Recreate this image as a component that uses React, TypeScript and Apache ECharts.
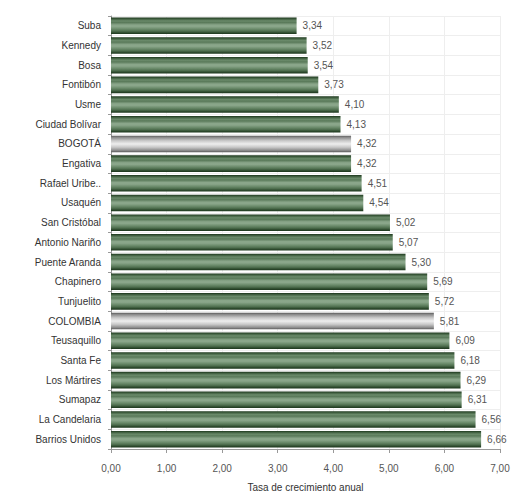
import React, { useEffect, useRef } from "react";
import * as echarts from "echarts";

const categories = [
  "Suba", "Kennedy", "Bosa", "Fontibón", "Usme", "Ciudad Bolívar", "BOGOTÁ",
  "Engativa", "Rafael Uribe..", "Usaquén", "San Cristóbal", "Antonio Nariño",
  "Puente Aranda", "Chapinero", "Tunjuelito", "COLOMBIA", "Teusaquillo",
  "Santa Fe", "Los Mártires", "Sumapaz", "La Candelaria", "Barrios Unidos",
];
const values = [
  3.34, 3.52, 3.54, 3.73, 4.10, 4.13, 4.32, 4.32, 4.51, 4.54, 5.02, 5.07,
  5.30, 5.69, 5.72, 5.81, 6.09, 6.18, 6.29, 6.31, 6.56, 6.66,
];
const highlighted = ["BOGOTÁ", "COLOMBIA"];
const axisTitle = "Tasa de crecimiento anual";

const greenGrad = () =>
  new echarts.graphic.LinearGradient(0, 0, 0, 1, [
    { offset: 0, color: "#1c361c" },
    { offset: 0.08, color: "#3d5c3d" },
    { offset: 0.2, color: "#6a8a6a" },
    { offset: 0.3, color: "#5a7a5a" },
    { offset: 0.45, color: "#8aa68a" },
    { offset: 0.55, color: "#8aa68a" },
    { offset: 0.7, color: "#6a8a6a" },
    { offset: 0.82, color: "#4f6f4f" },
    { offset: 0.92, color: "#2f4c2f" },
    { offset: 1, color: "#1c361c" },
  ]);
const greyGrad = () =>
  new echarts.graphic.LinearGradient(0, 0, 0, 1, [
    { offset: 0, color: "#5a5a5a" },
    { offset: 0.1, color: "#8a8a8a" },
    { offset: 0.3, color: "#c8c8c8" },
    { offset: 0.5, color: "#eeeeee" },
    { offset: 0.7, color: "#c8c8c8" },
    { offset: 0.9, color: "#8a8a8a" },
    { offset: 1, color: "#5a5a5a" },
  ]);

export default function App() {
  const ref = useRef<HTMLDivElement>(null);
  useEffect(() => {
    document.body.style.margin = "0";
    document.body.style.overflow = "hidden";
    if (!ref.current) return;
    const chart = echarts.init(ref.current, undefined, { renderer: "svg" });
    const fmt = (v: number) => v.toFixed(2).replace(".", ",");
    chart.setOption({
      animation: false,
      backgroundColor: "#ffffff",
      textStyle: { fontFamily: "Liberation Sans, Arial, sans-serif" },
      grid: {
        left: 111,
        right: 13,
        top: 16,
        bottom: 44,
        outerBoundsMode: "none",
        containLabel: false,
      },
      xAxis: {
        type: "value",
        min: 0,
        max: 7,
        interval: 1,
        position: "bottom",
        axisLine: { show: true, lineStyle: { color: "#999" } },
        axisTick: { show: true, length: 4, lineStyle: { color: "#999" } },
        axisLabel: {
          color: "#555",
          fontSize: 10,
          margin: 14,
          formatter: (v: number) => fmt(v),
        },
        splitLine: { show: true, lineStyle: { color: "#eeeeee", width: 1 } },
        name: axisTitle,
        nameLocation: "middle",
        nameGap: 33,
        nameTextStyle: { color: "#333", fontSize: 10 },
      },
      yAxis: {
        type: "category",
        data: categories,
        inverse: true,
        axisLine: { show: true, lineStyle: { color: "#999" } },
        axisTick: { show: true, length: 3, lineStyle: { color: "#999" } },
        axisLabel: { color: "#333", fontSize: 10, margin: 10 },
        splitLine: { show: true, lineStyle: { color: "#eeeeee", width: 1 } },
      },
      series: [
        {
          type: "bar",
          data: values.map((v, i) => ({
            value: v,
            itemStyle: {
              color: highlighted.includes(categories[i]) ? greyGrad() : greenGrad(),
            },
          })),
          barCategoryGap: "16%",
          label: {
            show: true,
            position: "right",
            distance: 6,
            color: "#555",
            fontSize: 10,
            formatter: (p: any) => fmt(p.value),
          },
        },
      ],
    });
    return () => chart.dispose();
  }, []);
  return <div ref={ref} style={{ width: 513, height: 493 }} />;
}
